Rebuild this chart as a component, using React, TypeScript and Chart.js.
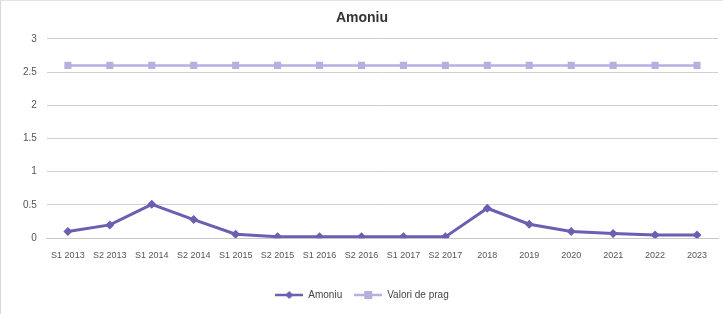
import React, { useEffect, useRef } from "react";
import { Chart, registerables } from "chart.js";

Chart.register(...registerables);

const categories = [
  "S1 2013", "S2 2013", "S1 2014", "S2 2014", "S1 2015", "S2 2015", "S1 2016", "S2 2016",
  "S1 2017", "S2 2017", "2018", "2019", "2020", "2021", "2022", "2023",
];
const amoniu = [0.1, 0.2, 0.51, 0.28, 0.06, 0.02, 0.02, 0.02, 0.02, 0.02, 0.45, 0.21, 0.1, 0.07, 0.05, 0.05];
const valoriDePrag = [2.6, 2.6, 2.6, 2.6, 2.6, 2.6, 2.6, 2.6, 2.6, 2.6, 2.6, 2.6, 2.6, 2.6, 2.6, 2.6];
const yTicks = [0, 0.5, 1, 1.5, 2, 2.5, 3];

const AMONIU_COLOR = "#6a5fb0";
const PRAG_COLOR = "#b7afe0";

function legendIcon(color: string, shape: "diamond" | "square") {
  const c = document.createElement("canvas");
  c.width = 28;
  c.height = 10;
  const ctx = c.getContext("2d")!;
  ctx.strokeStyle = color;
  ctx.lineWidth = 2.5;
  ctx.beginPath();
  ctx.moveTo(0, 5);
  ctx.lineTo(28, 5);
  ctx.stroke();
  ctx.fillStyle = color;
  if (shape === "diamond") {
    ctx.beginPath();
    ctx.moveTo(14, 1);
    ctx.lineTo(18, 5);
    ctx.lineTo(14, 9);
    ctx.lineTo(10, 5);
    ctx.closePath();
    ctx.fill();
  } else {
    ctx.fillRect(10, 1, 8, 8);
  }
  return c;
}

export default function App() {
  const ref = useRef<HTMLCanvasElement>(null);
  useEffect(() => {
    if (!ref.current) return;
    const icons = [legendIcon(AMONIU_COLOR, "diamond"), legendIcon(PRAG_COLOR, "square")];
    const chart = new Chart(ref.current, {
      type: "line",
      data: {
        labels: categories,
        datasets: [
          {
            label: "Amoniu",
            data: amoniu,
            borderColor: AMONIU_COLOR,
            backgroundColor: AMONIU_COLOR,
            borderWidth: 3,
            pointStyle: "rectRot",
            pointRadius: 4.5,
            pointBorderWidth: 0,
            tension: 0,
          },
          {
            label: "Valori de prag",
            data: valoriDePrag,
            borderColor: PRAG_COLOR,
            backgroundColor: PRAG_COLOR,
            borderWidth: 2.5,
            pointStyle: "rect",
            pointRadius: 5,
            pointBorderWidth: 0,
            tension: 0,
          },
        ],
      },
      options: {
        animation: false,
        responsive: true,
        maintainAspectRatio: false,
        layout: { padding: { left: 5, right: 5, top: 5, bottom: 4 } },
        plugins: {
          title: {
            display: true,
            text: "Amoniu",
            color: "#333",
            font: { family: "Liberation Sans", size: 14, weight: "bold" },
            padding: { top: 4, bottom: 12 },
          },
          legend: {
            position: "bottom",
            labels: {
              usePointStyle: true,
              pointStyleWidth: 28,
              boxHeight: 10,
              color: "#444",
              font: { family: "Liberation Sans", size: 10 },
              padding: 12,
              generateLabels: (ch: any) =>
                ch.data.datasets.map((ds: any, i: number) => ({
                  text: ds.label,
                  datasetIndex: i,
                  pointStyle: icons[i],
                  fillStyle: ds.borderColor,
                  strokeStyle: ds.borderColor,
                  lineWidth: 0,
                  fontColor: "#444",
                  hidden: false,
                })),
            },
          },
          tooltip: { enabled: false },
        },
        scales: {
          x: {
            offset: true,
            grid: { display: false },
            border: { color: "#c8c8c8" },
            ticks: {
              color: "#555",
              font: { family: "Liberation Sans", size: 9 },
              maxRotation: 0,
              autoSkip: false,
              padding: 4,
            },
            afterFit: (scale: any) => {
              scale.height += 13;
            },
          },
          y: {
            min: 0,
            max: 3,
            afterBuildTicks: (scale: any) => {
              scale.ticks = yTicks.map((v) => ({ value: v }));
            },
            afterFit: (scale: any) => {
              scale.width += 7;
            },
            grid: { color: "#d0d0d0", drawTicks: false },
            border: { display: false },
            ticks: {
              color: "#555",
              font: { family: "Liberation Sans", size: 10 },
              padding: 10,
              callback: (v: any) => String(Number(v)),
            },
          },
        },
      },
    });
    return () => chart.destroy();
  }, []);
  return (
    <div
      style={{
        position: "fixed",
        left: 0,
        top: 0,
        width: 723,
        height: 314,
        background: "#fff",
        boxSizing: "border-box",
        borderLeft: "1px solid #d8d8d8",
        borderTop: "1px solid #e4e4e4",
      }}
    >
      <canvas ref={ref} />
    </div>
  );
}
